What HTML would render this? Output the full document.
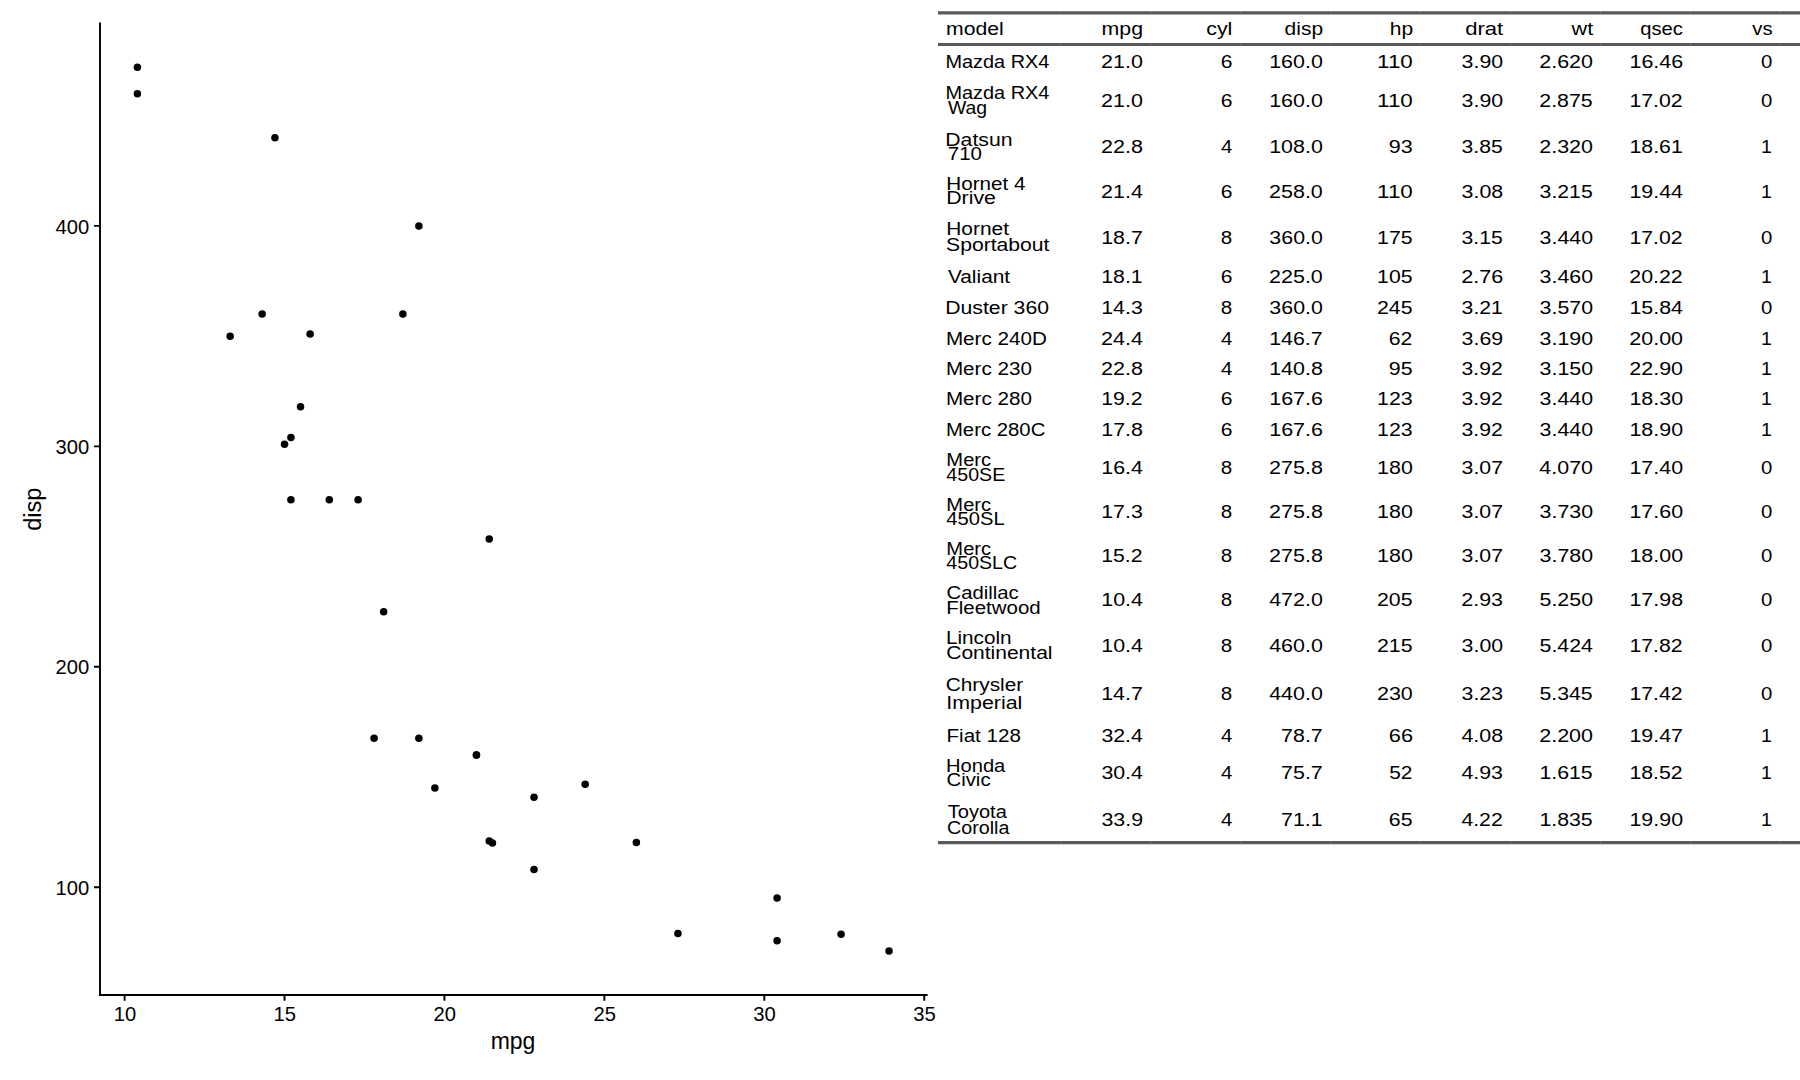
<!DOCTYPE html>
<html><head><meta charset="utf-8"><style>
html,body{margin:0;padding:0;background:#fff;width:1800px;height:1080px;overflow:hidden}
svg{display:block}
text{font-family:"Liberation Sans",sans-serif;fill:#000}
</style></head><body>
<svg width="1800" height="1080" viewBox="0 0 1800 1080">
<rect width="1800" height="1080" fill="#fff"/>
<g fill="#000">
<circle cx="476.43" cy="754.94" r="3.75"/>
<circle cx="476.43" cy="754.94" r="3.75"/>
<circle cx="534.01" cy="869.57" r="3.75"/>
<circle cx="489.23" cy="538.92" r="3.75"/>
<circle cx="402.87" cy="314.08" r="3.75"/>
<circle cx="383.68" cy="611.66" r="3.75"/>
<circle cx="262.14" cy="314.08" r="3.75"/>
<circle cx="585.18" cy="784.26" r="3.75"/>
<circle cx="534.01" cy="797.26" r="3.75"/>
<circle cx="418.86" cy="738.19" r="3.75"/>
<circle cx="374.08" cy="738.19" r="3.75"/>
<circle cx="329.30" cy="499.68" r="3.75"/>
<circle cx="358.09" cy="499.68" r="3.75"/>
<circle cx="290.92" cy="499.68" r="3.75"/>
<circle cx="137.39" cy="67.20" r="3.75"/>
<circle cx="137.39" cy="93.65" r="3.75"/>
<circle cx="274.93" cy="137.74" r="3.75"/>
<circle cx="841.06" cy="934.15" r="3.75"/>
<circle cx="777.09" cy="940.76" r="3.75"/>
<circle cx="889.04" cy="950.90" r="3.75"/>
<circle cx="492.43" cy="842.89" r="3.75"/>
<circle cx="300.52" cy="406.66" r="3.75"/>
<circle cx="290.92" cy="437.52" r="3.75"/>
<circle cx="230.15" cy="336.13" r="3.75"/>
<circle cx="418.86" cy="225.91" r="3.75"/>
<circle cx="677.94" cy="933.49" r="3.75"/>
<circle cx="636.36" cy="842.45" r="3.75"/>
<circle cx="777.09" cy="898.00" r="3.75"/>
<circle cx="310.11" cy="333.92" r="3.75"/>
<circle cx="434.85" cy="788.01" r="3.75"/>
<circle cx="284.52" cy="444.14" r="3.75"/>
<circle cx="489.23" cy="840.91" r="3.75"/>
</g>
<path d="M100,22.5 V995.95 M99.05,995 H927.6" stroke="#000" stroke-width="1.9" fill="none"/>
<path d="M124.60,995 V1000.8 M284.52,995 V1000.8 M444.45,995 V1000.8 M604.38,995 V1000.8 M764.30,995 V1000.8 M924.23,995 V1000.8 M100,887.20 H94 M100,666.77 H94 M100,446.34 H94 M100,225.91 H94" stroke="#000" stroke-width="1.9" fill="none"/>
<g font-size="20.2" text-anchor="middle">
<text x="124.90" y="1020.6">10</text>
<text x="284.82" y="1020.6">15</text>
<text x="444.75" y="1020.6">20</text>
<text x="604.67" y="1020.6">25</text>
<text x="764.60" y="1020.6">30</text>
<text x="924.52" y="1020.6">35</text>
</g>
<g font-size="20.2" text-anchor="end">
<text x="89.2" y="894.80">100</text>
<text x="89.2" y="674.37">200</text>
<text x="89.2" y="453.94">300</text>
<text x="89.2" y="233.51">400</text>
</g>
<text x="513" y="1049" font-size="23" text-anchor="middle">mpg</text>
<text transform="translate(41.0,509.2) rotate(-90)" x="0" y="0" font-size="23.5" text-anchor="middle">disp</text>
<g font-size="18.9">
<path d="M938,12.8 H1800 M938,44.5 H1800 M938,842.6 H1800" stroke="#595959" stroke-width="3.2" fill="none"/>
<g fill="#fff" fill-opacity="0.15"><rect x="1060.35" y="11.20" width="1" height="3.2"/><rect x="1150.31" y="11.20" width="1" height="3.2"/><rect x="1240.27" y="11.20" width="1" height="3.2"/><rect x="1330.23" y="11.20" width="1" height="3.2"/><rect x="1420.19" y="11.20" width="1" height="3.2"/><rect x="1510.15" y="11.20" width="1" height="3.2"/><rect x="1600.11" y="11.20" width="1" height="3.2"/><rect x="1690.07" y="11.20" width="1" height="3.2"/><rect x="1780.03" y="11.20" width="1" height="3.2"/><rect x="1060.35" y="42.90" width="1" height="3.2"/><rect x="1150.31" y="42.90" width="1" height="3.2"/><rect x="1240.27" y="42.90" width="1" height="3.2"/><rect x="1330.23" y="42.90" width="1" height="3.2"/><rect x="1420.19" y="42.90" width="1" height="3.2"/><rect x="1510.15" y="42.90" width="1" height="3.2"/><rect x="1600.11" y="42.90" width="1" height="3.2"/><rect x="1690.07" y="42.90" width="1" height="3.2"/><rect x="1780.03" y="42.90" width="1" height="3.2"/><rect x="1060.35" y="841.00" width="1" height="3.2"/><rect x="1150.31" y="841.00" width="1" height="3.2"/><rect x="1240.27" y="841.00" width="1" height="3.2"/><rect x="1330.23" y="841.00" width="1" height="3.2"/><rect x="1420.19" y="841.00" width="1" height="3.2"/><rect x="1510.15" y="841.00" width="1" height="3.2"/><rect x="1600.11" y="841.00" width="1" height="3.2"/><rect x="1690.07" y="841.00" width="1" height="3.2"/><rect x="1780.03" y="841.00" width="1" height="3.2"/></g>
<text x="946.09" y="35.20" textLength="57.75" lengthAdjust="spacingAndGlyphs">model</text>
<text x="1101.56" y="35.30" textLength="41.45" lengthAdjust="spacingAndGlyphs">mpg</text>
<text x="1206.19" y="35.30" textLength="26.16" lengthAdjust="spacingAndGlyphs">cyl</text>
<text x="1284.62" y="35.30" textLength="38.48" lengthAdjust="spacingAndGlyphs">disp</text>
<text x="1389.70" y="35.30" textLength="23.40" lengthAdjust="spacingAndGlyphs">hp</text>
<text x="1465.20" y="35.30" textLength="38.06" lengthAdjust="spacingAndGlyphs">drat</text>
<text x="1571.58" y="35.30" textLength="21.58" lengthAdjust="spacingAndGlyphs">wt</text>
<text x="1640.15" y="35.30" textLength="42.70" lengthAdjust="spacingAndGlyphs">qsec</text>
<text x="1752.37" y="35.30" textLength="20.19" lengthAdjust="spacingAndGlyphs">vs</text>
<text x="945.42" y="67.90" textLength="103.97" lengthAdjust="spacingAndGlyphs">Mazda RX4</text>
<text x="1101.09" y="67.70" textLength="41.85" lengthAdjust="spacingAndGlyphs">21.0</text>
<text x="1220.69" y="67.70" textLength="11.74" lengthAdjust="spacingAndGlyphs">6</text>
<text x="1269.19" y="67.70" textLength="53.64" lengthAdjust="spacingAndGlyphs">160.0</text>
<text x="1377.08" y="67.70" textLength="35.75" lengthAdjust="spacingAndGlyphs">110</text>
<text x="1461.61" y="67.70" textLength="41.52" lengthAdjust="spacingAndGlyphs">3.90</text>
<text x="1539.26" y="67.70" textLength="53.78" lengthAdjust="spacingAndGlyphs">2.620</text>
<text x="1629.43" y="67.70" textLength="53.82" lengthAdjust="spacingAndGlyphs">16.46</text>
<text x="1760.96" y="67.70" textLength="11.34" lengthAdjust="spacingAndGlyphs">0</text>
<text x="945.42" y="98.70" textLength="103.97" lengthAdjust="spacingAndGlyphs">Mazda RX4</text>
<text x="947.92" y="114.40" textLength="39.21" lengthAdjust="spacingAndGlyphs">Wag</text>
<text x="1101.09" y="107.30" textLength="41.85" lengthAdjust="spacingAndGlyphs">21.0</text>
<text x="1220.69" y="107.30" textLength="11.74" lengthAdjust="spacingAndGlyphs">6</text>
<text x="1269.19" y="107.30" textLength="53.64" lengthAdjust="spacingAndGlyphs">160.0</text>
<text x="1377.08" y="107.30" textLength="35.75" lengthAdjust="spacingAndGlyphs">110</text>
<text x="1461.61" y="107.30" textLength="41.52" lengthAdjust="spacingAndGlyphs">3.90</text>
<text x="1539.27" y="107.30" textLength="53.44" lengthAdjust="spacingAndGlyphs">2.875</text>
<text x="1629.44" y="107.30" textLength="53.23" lengthAdjust="spacingAndGlyphs">17.02</text>
<text x="1760.96" y="107.30" textLength="11.34" lengthAdjust="spacingAndGlyphs">0</text>
<text x="945.31" y="146.10" textLength="67.17" lengthAdjust="spacingAndGlyphs">Datsun</text>
<text x="947.75" y="159.60" textLength="34.25" lengthAdjust="spacingAndGlyphs">710</text>
<text x="1101.09" y="153.20" textLength="41.91" lengthAdjust="spacingAndGlyphs">22.8</text>
<text x="1220.90" y="153.20" textLength="11.32" lengthAdjust="spacingAndGlyphs">4</text>
<text x="1269.19" y="153.20" textLength="53.64" lengthAdjust="spacingAndGlyphs">108.0</text>
<text x="1388.76" y="153.20" textLength="23.93" lengthAdjust="spacingAndGlyphs">93</text>
<text x="1461.62" y="153.20" textLength="41.18" lengthAdjust="spacingAndGlyphs">3.85</text>
<text x="1539.26" y="153.20" textLength="53.78" lengthAdjust="spacingAndGlyphs">2.320</text>
<text x="1629.44" y="153.20" textLength="53.35" lengthAdjust="spacingAndGlyphs">18.61</text>
<text x="1761.08" y="153.20" textLength="10.89" lengthAdjust="spacingAndGlyphs">1</text>
<text x="946.31" y="190.30" textLength="79.20" lengthAdjust="spacingAndGlyphs">Hornet 4</text>
<text x="946.25" y="204.40" textLength="49.69" lengthAdjust="spacingAndGlyphs">Drive</text>
<text x="1101.09" y="197.70" textLength="41.83" lengthAdjust="spacingAndGlyphs">21.4</text>
<text x="1220.69" y="197.70" textLength="11.74" lengthAdjust="spacingAndGlyphs">6</text>
<text x="1269.06" y="197.70" textLength="53.78" lengthAdjust="spacingAndGlyphs">258.0</text>
<text x="1377.08" y="197.70" textLength="35.75" lengthAdjust="spacingAndGlyphs">110</text>
<text x="1461.61" y="197.70" textLength="41.58" lengthAdjust="spacingAndGlyphs">3.08</text>
<text x="1539.59" y="197.70" textLength="53.11" lengthAdjust="spacingAndGlyphs">3.215</text>
<text x="1629.43" y="197.70" textLength="53.62" lengthAdjust="spacingAndGlyphs">19.44</text>
<text x="1761.08" y="197.70" textLength="10.89" lengthAdjust="spacingAndGlyphs">1</text>
<text x="946.29" y="235.00" textLength="62.67" lengthAdjust="spacingAndGlyphs">Hornet</text>
<text x="946.04" y="250.50" textLength="103.41" lengthAdjust="spacingAndGlyphs">Sportabout</text>
<text x="1101.23" y="243.50" textLength="41.59" lengthAdjust="spacingAndGlyphs">18.7</text>
<text x="1220.83" y="243.50" textLength="11.47" lengthAdjust="spacingAndGlyphs">8</text>
<text x="1269.38" y="243.50" textLength="53.45" lengthAdjust="spacingAndGlyphs">360.0</text>
<text x="1377.10" y="243.50" textLength="35.40" lengthAdjust="spacingAndGlyphs">175</text>
<text x="1461.62" y="243.50" textLength="41.18" lengthAdjust="spacingAndGlyphs">3.15</text>
<text x="1539.58" y="243.50" textLength="53.45" lengthAdjust="spacingAndGlyphs">3.440</text>
<text x="1629.44" y="243.50" textLength="53.23" lengthAdjust="spacingAndGlyphs">17.02</text>
<text x="1760.96" y="243.50" textLength="11.34" lengthAdjust="spacingAndGlyphs">0</text>
<text x="947.91" y="283.20" textLength="62.24" lengthAdjust="spacingAndGlyphs">Valiant</text>
<text x="1101.24" y="282.90" textLength="41.42" lengthAdjust="spacingAndGlyphs">18.1</text>
<text x="1220.69" y="282.90" textLength="11.74" lengthAdjust="spacingAndGlyphs">6</text>
<text x="1269.06" y="282.90" textLength="53.78" lengthAdjust="spacingAndGlyphs">225.0</text>
<text x="1377.10" y="282.90" textLength="35.40" lengthAdjust="spacingAndGlyphs">105</text>
<text x="1461.28" y="282.90" textLength="42.03" lengthAdjust="spacingAndGlyphs">2.76</text>
<text x="1539.58" y="282.90" textLength="53.45" lengthAdjust="spacingAndGlyphs">3.460</text>
<text x="1629.30" y="282.90" textLength="53.37" lengthAdjust="spacingAndGlyphs">20.22</text>
<text x="1761.08" y="282.90" textLength="10.89" lengthAdjust="spacingAndGlyphs">1</text>
<text x="945.26" y="314.30" textLength="103.77" lengthAdjust="spacingAndGlyphs">Duster 360</text>
<text x="1101.23" y="314.30" textLength="41.55" lengthAdjust="spacingAndGlyphs">14.3</text>
<text x="1220.83" y="314.30" textLength="11.47" lengthAdjust="spacingAndGlyphs">8</text>
<text x="1269.38" y="314.30" textLength="53.45" lengthAdjust="spacingAndGlyphs">360.0</text>
<text x="1376.96" y="314.30" textLength="35.54" lengthAdjust="spacingAndGlyphs">245</text>
<text x="1461.62" y="314.30" textLength="41.23" lengthAdjust="spacingAndGlyphs">3.21</text>
<text x="1539.58" y="314.30" textLength="53.45" lengthAdjust="spacingAndGlyphs">3.570</text>
<text x="1629.43" y="314.30" textLength="53.62" lengthAdjust="spacingAndGlyphs">15.84</text>
<text x="1760.96" y="314.30" textLength="11.34" lengthAdjust="spacingAndGlyphs">0</text>
<text x="945.91" y="344.70" textLength="100.88" lengthAdjust="spacingAndGlyphs">Merc 240D</text>
<text x="1101.09" y="344.70" textLength="41.83" lengthAdjust="spacingAndGlyphs">24.4</text>
<text x="1220.90" y="344.70" textLength="11.32" lengthAdjust="spacingAndGlyphs">4</text>
<text x="1269.20" y="344.70" textLength="53.52" lengthAdjust="spacingAndGlyphs">146.7</text>
<text x="1388.82" y="344.70" textLength="23.62" lengthAdjust="spacingAndGlyphs">62</text>
<text x="1461.61" y="344.70" textLength="41.63" lengthAdjust="spacingAndGlyphs">3.69</text>
<text x="1539.58" y="344.70" textLength="53.45" lengthAdjust="spacingAndGlyphs">3.190</text>
<text x="1629.30" y="344.70" textLength="53.78" lengthAdjust="spacingAndGlyphs">20.00</text>
<text x="1761.08" y="344.70" textLength="10.89" lengthAdjust="spacingAndGlyphs">1</text>
<text x="945.91" y="374.90" textLength="86.00" lengthAdjust="spacingAndGlyphs">Merc 230</text>
<text x="1101.09" y="374.90" textLength="41.91" lengthAdjust="spacingAndGlyphs">22.8</text>
<text x="1220.90" y="374.90" textLength="11.32" lengthAdjust="spacingAndGlyphs">4</text>
<text x="1269.19" y="374.90" textLength="53.70" lengthAdjust="spacingAndGlyphs">140.8</text>
<text x="1388.77" y="374.90" textLength="23.74" lengthAdjust="spacingAndGlyphs">95</text>
<text x="1461.62" y="374.90" textLength="41.11" lengthAdjust="spacingAndGlyphs">3.92</text>
<text x="1539.58" y="374.90" textLength="53.45" lengthAdjust="spacingAndGlyphs">3.150</text>
<text x="1629.30" y="374.90" textLength="53.78" lengthAdjust="spacingAndGlyphs">22.90</text>
<text x="1761.08" y="374.90" textLength="10.89" lengthAdjust="spacingAndGlyphs">1</text>
<text x="945.91" y="405.20" textLength="86.00" lengthAdjust="spacingAndGlyphs">Merc 280</text>
<text x="1101.24" y="405.20" textLength="41.29" lengthAdjust="spacingAndGlyphs">19.2</text>
<text x="1220.69" y="405.20" textLength="11.74" lengthAdjust="spacingAndGlyphs">6</text>
<text x="1269.19" y="405.20" textLength="53.82" lengthAdjust="spacingAndGlyphs">167.6</text>
<text x="1377.09" y="405.20" textLength="35.59" lengthAdjust="spacingAndGlyphs">123</text>
<text x="1461.62" y="405.20" textLength="41.11" lengthAdjust="spacingAndGlyphs">3.92</text>
<text x="1539.58" y="405.20" textLength="53.45" lengthAdjust="spacingAndGlyphs">3.440</text>
<text x="1629.43" y="405.20" textLength="53.64" lengthAdjust="spacingAndGlyphs">18.30</text>
<text x="1761.08" y="405.20" textLength="10.89" lengthAdjust="spacingAndGlyphs">1</text>
<text x="945.93" y="435.90" textLength="99.44" lengthAdjust="spacingAndGlyphs">Merc 280C</text>
<text x="1101.22" y="435.90" textLength="41.77" lengthAdjust="spacingAndGlyphs">17.8</text>
<text x="1220.69" y="435.90" textLength="11.74" lengthAdjust="spacingAndGlyphs">6</text>
<text x="1269.19" y="435.90" textLength="53.82" lengthAdjust="spacingAndGlyphs">167.6</text>
<text x="1377.09" y="435.90" textLength="35.59" lengthAdjust="spacingAndGlyphs">123</text>
<text x="1461.62" y="435.90" textLength="41.11" lengthAdjust="spacingAndGlyphs">3.92</text>
<text x="1539.58" y="435.90" textLength="53.45" lengthAdjust="spacingAndGlyphs">3.440</text>
<text x="1629.43" y="435.90" textLength="53.64" lengthAdjust="spacingAndGlyphs">18.90</text>
<text x="1761.08" y="435.90" textLength="10.89" lengthAdjust="spacingAndGlyphs">1</text>
<text x="946.35" y="466.20" textLength="44.78" lengthAdjust="spacingAndGlyphs">Merc</text>
<text x="946.35" y="480.50" textLength="58.89" lengthAdjust="spacingAndGlyphs">450SE</text>
<text x="1101.23" y="474.10" textLength="41.69" lengthAdjust="spacingAndGlyphs">16.4</text>
<text x="1220.83" y="474.10" textLength="11.47" lengthAdjust="spacingAndGlyphs">8</text>
<text x="1269.06" y="474.10" textLength="53.84" lengthAdjust="spacingAndGlyphs">275.8</text>
<text x="1377.08" y="474.10" textLength="35.75" lengthAdjust="spacingAndGlyphs">180</text>
<text x="1461.62" y="474.10" textLength="41.40" lengthAdjust="spacingAndGlyphs">3.07</text>
<text x="1539.39" y="474.10" textLength="53.65" lengthAdjust="spacingAndGlyphs">4.070</text>
<text x="1629.43" y="474.10" textLength="53.64" lengthAdjust="spacingAndGlyphs">17.40</text>
<text x="1760.96" y="474.10" textLength="11.34" lengthAdjust="spacingAndGlyphs">0</text>
<text x="946.35" y="510.50" textLength="44.78" lengthAdjust="spacingAndGlyphs">Merc</text>
<text x="946.34" y="524.60" textLength="58.43" lengthAdjust="spacingAndGlyphs">450SL</text>
<text x="1101.23" y="517.60" textLength="41.55" lengthAdjust="spacingAndGlyphs">17.3</text>
<text x="1220.83" y="517.60" textLength="11.47" lengthAdjust="spacingAndGlyphs">8</text>
<text x="1269.06" y="517.60" textLength="53.84" lengthAdjust="spacingAndGlyphs">275.8</text>
<text x="1377.08" y="517.60" textLength="35.75" lengthAdjust="spacingAndGlyphs">180</text>
<text x="1461.62" y="517.60" textLength="41.40" lengthAdjust="spacingAndGlyphs">3.07</text>
<text x="1539.58" y="517.60" textLength="53.45" lengthAdjust="spacingAndGlyphs">3.730</text>
<text x="1629.43" y="517.60" textLength="53.64" lengthAdjust="spacingAndGlyphs">17.60</text>
<text x="1760.96" y="517.60" textLength="11.34" lengthAdjust="spacingAndGlyphs">0</text>
<text x="946.35" y="554.70" textLength="44.78" lengthAdjust="spacingAndGlyphs">Merc</text>
<text x="946.35" y="568.60" textLength="70.80" lengthAdjust="spacingAndGlyphs">450SLC</text>
<text x="1101.24" y="562.00" textLength="41.29" lengthAdjust="spacingAndGlyphs">15.2</text>
<text x="1220.83" y="562.00" textLength="11.47" lengthAdjust="spacingAndGlyphs">8</text>
<text x="1269.06" y="562.00" textLength="53.84" lengthAdjust="spacingAndGlyphs">275.8</text>
<text x="1377.08" y="562.00" textLength="35.75" lengthAdjust="spacingAndGlyphs">180</text>
<text x="1461.62" y="562.00" textLength="41.40" lengthAdjust="spacingAndGlyphs">3.07</text>
<text x="1539.58" y="562.00" textLength="53.45" lengthAdjust="spacingAndGlyphs">3.780</text>
<text x="1629.43" y="562.00" textLength="53.64" lengthAdjust="spacingAndGlyphs">18.00</text>
<text x="1760.96" y="562.00" textLength="11.34" lengthAdjust="spacingAndGlyphs">0</text>
<text x="946.57" y="598.80" textLength="72.17" lengthAdjust="spacingAndGlyphs">Cadillac</text>
<text x="946.32" y="613.70" textLength="94.40" lengthAdjust="spacingAndGlyphs">Fleetwood</text>
<text x="1101.23" y="606.40" textLength="41.69" lengthAdjust="spacingAndGlyphs">10.4</text>
<text x="1220.83" y="606.40" textLength="11.47" lengthAdjust="spacingAndGlyphs">8</text>
<text x="1269.19" y="606.40" textLength="53.65" lengthAdjust="spacingAndGlyphs">472.0</text>
<text x="1376.96" y="606.40" textLength="35.54" lengthAdjust="spacingAndGlyphs">205</text>
<text x="1461.29" y="606.40" textLength="41.69" lengthAdjust="spacingAndGlyphs">2.93</text>
<text x="1539.56" y="606.40" textLength="53.48" lengthAdjust="spacingAndGlyphs">5.250</text>
<text x="1629.43" y="606.40" textLength="53.70" lengthAdjust="spacingAndGlyphs">17.98</text>
<text x="1760.96" y="606.40" textLength="11.34" lengthAdjust="spacingAndGlyphs">0</text>
<text x="945.90" y="644.00" textLength="65.75" lengthAdjust="spacingAndGlyphs">Lincoln</text>
<text x="946.23" y="658.80" textLength="106.27" lengthAdjust="spacingAndGlyphs">Continental</text>
<text x="1101.23" y="651.70" textLength="41.69" lengthAdjust="spacingAndGlyphs">10.4</text>
<text x="1220.83" y="651.70" textLength="11.47" lengthAdjust="spacingAndGlyphs">8</text>
<text x="1269.19" y="651.70" textLength="53.65" lengthAdjust="spacingAndGlyphs">460.0</text>
<text x="1376.96" y="651.70" textLength="35.54" lengthAdjust="spacingAndGlyphs">215</text>
<text x="1461.61" y="651.70" textLength="41.52" lengthAdjust="spacingAndGlyphs">3.00</text>
<text x="1539.56" y="651.70" textLength="53.46" lengthAdjust="spacingAndGlyphs">5.424</text>
<text x="1629.44" y="651.70" textLength="53.23" lengthAdjust="spacingAndGlyphs">17.82</text>
<text x="1760.96" y="651.70" textLength="11.34" lengthAdjust="spacingAndGlyphs">0</text>
<text x="945.74" y="691.20" textLength="77.50" lengthAdjust="spacingAndGlyphs">Chrysler</text>
<text x="946.23" y="708.80" textLength="76.11" lengthAdjust="spacingAndGlyphs">Imperial</text>
<text x="1101.23" y="700.00" textLength="41.59" lengthAdjust="spacingAndGlyphs">14.7</text>
<text x="1220.83" y="700.00" textLength="11.47" lengthAdjust="spacingAndGlyphs">8</text>
<text x="1269.19" y="700.00" textLength="53.65" lengthAdjust="spacingAndGlyphs">440.0</text>
<text x="1376.95" y="700.00" textLength="35.89" lengthAdjust="spacingAndGlyphs">230</text>
<text x="1461.62" y="700.00" textLength="41.36" lengthAdjust="spacingAndGlyphs">3.23</text>
<text x="1539.56" y="700.00" textLength="53.13" lengthAdjust="spacingAndGlyphs">5.345</text>
<text x="1629.44" y="700.00" textLength="53.23" lengthAdjust="spacingAndGlyphs">17.42</text>
<text x="1760.96" y="700.00" textLength="11.34" lengthAdjust="spacingAndGlyphs">0</text>
<text x="946.51" y="741.60" textLength="74.38" lengthAdjust="spacingAndGlyphs">Fiat 128</text>
<text x="1101.41" y="741.60" textLength="41.50" lengthAdjust="spacingAndGlyphs">32.4</text>
<text x="1220.90" y="741.60" textLength="11.32" lengthAdjust="spacingAndGlyphs">4</text>
<text x="1281.14" y="741.60" textLength="41.58" lengthAdjust="spacingAndGlyphs">78.7</text>
<text x="1388.79" y="741.60" textLength="24.23" lengthAdjust="spacingAndGlyphs">66</text>
<text x="1461.42" y="741.60" textLength="41.78" lengthAdjust="spacingAndGlyphs">4.08</text>
<text x="1539.26" y="741.60" textLength="53.78" lengthAdjust="spacingAndGlyphs">2.200</text>
<text x="1629.43" y="741.60" textLength="53.52" lengthAdjust="spacingAndGlyphs">19.47</text>
<text x="1761.08" y="741.60" textLength="10.89" lengthAdjust="spacingAndGlyphs">1</text>
<text x="945.95" y="771.70" textLength="59.35" lengthAdjust="spacingAndGlyphs">Honda</text>
<text x="946.57" y="786.40" textLength="43.97" lengthAdjust="spacingAndGlyphs">Civic</text>
<text x="1101.41" y="779.40" textLength="41.50" lengthAdjust="spacingAndGlyphs">30.4</text>
<text x="1220.90" y="779.40" textLength="11.32" lengthAdjust="spacingAndGlyphs">4</text>
<text x="1281.14" y="779.40" textLength="41.58" lengthAdjust="spacingAndGlyphs">75.7</text>
<text x="1389.20" y="779.40" textLength="23.22" lengthAdjust="spacingAndGlyphs">52</text>
<text x="1461.42" y="779.40" textLength="41.56" lengthAdjust="spacingAndGlyphs">4.93</text>
<text x="1539.41" y="779.40" textLength="53.30" lengthAdjust="spacingAndGlyphs">1.615</text>
<text x="1629.44" y="779.40" textLength="53.23" lengthAdjust="spacingAndGlyphs">18.52</text>
<text x="1761.08" y="779.40" textLength="10.89" lengthAdjust="spacingAndGlyphs">1</text>
<text x="947.77" y="818.20" textLength="59.03" lengthAdjust="spacingAndGlyphs">Toyota</text>
<text x="947.00" y="834.10" textLength="62.40" lengthAdjust="spacingAndGlyphs">Corolla</text>
<text x="1101.41" y="825.80" textLength="41.63" lengthAdjust="spacingAndGlyphs">33.9</text>
<text x="1220.90" y="825.80" textLength="11.32" lengthAdjust="spacingAndGlyphs">4</text>
<text x="1281.14" y="825.80" textLength="41.41" lengthAdjust="spacingAndGlyphs">71.1</text>
<text x="1388.81" y="825.80" textLength="23.69" lengthAdjust="spacingAndGlyphs">65</text>
<text x="1461.43" y="825.80" textLength="41.31" lengthAdjust="spacingAndGlyphs">4.22</text>
<text x="1539.41" y="825.80" textLength="53.30" lengthAdjust="spacingAndGlyphs">1.835</text>
<text x="1629.43" y="825.80" textLength="53.64" lengthAdjust="spacingAndGlyphs">19.90</text>
<text x="1761.08" y="825.80" textLength="10.89" lengthAdjust="spacingAndGlyphs">1</text>
</g>
</svg>
</body></html>
